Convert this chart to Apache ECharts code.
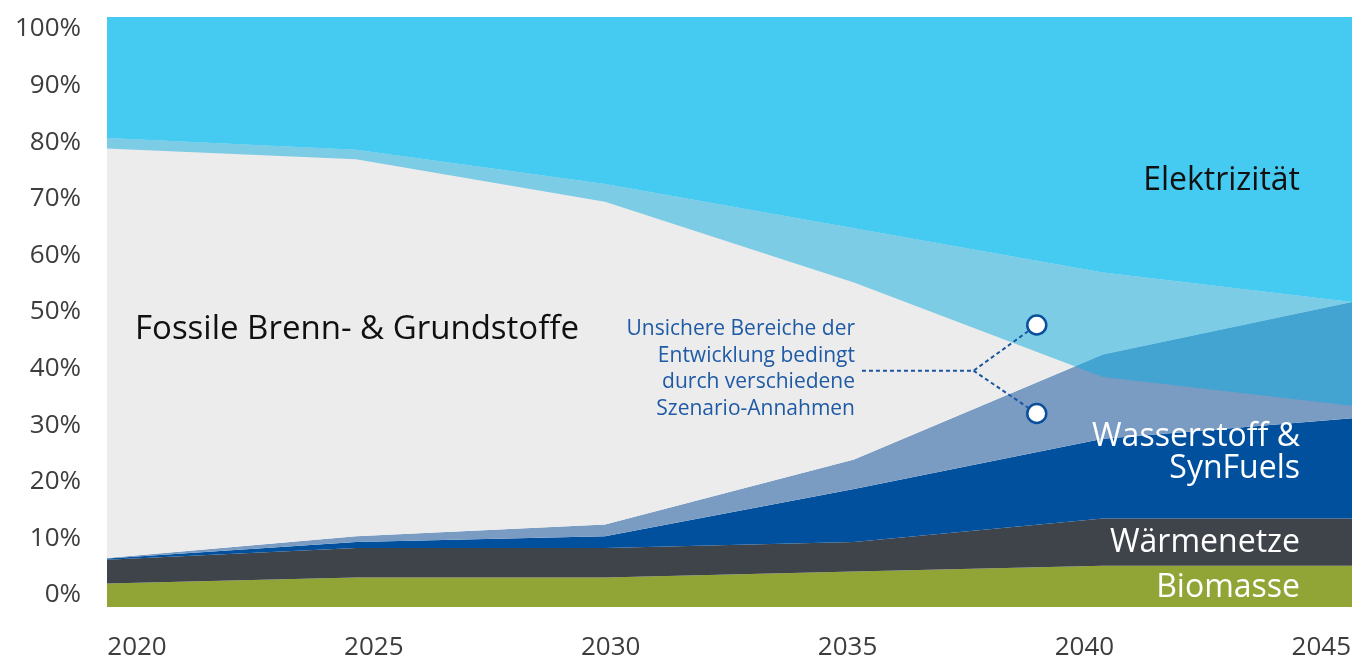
<!DOCTYPE html>
<html>
<head>
<meta charset="utf-8">
<script src="https://cdn.jsdelivr.net/npm/echarts@6/dist/echarts.min.js"></script>
<style>
  html, body { margin: 0; padding: 0; background: #ffffff; }
  #chart { width: 1354px; height: 661px; }
</style>
</head>
<body>
<div id="chart"></div>
<script>
// ---- data (shares in %, stacked bottom to top) ----
const years = ['2020', '2025', '2030', '2035', '2040', '2045'];
const xTickLabels = ['2020', '2025', '2030', '2035', '2040', '2045'];
const yTickLabels = ['0%', '10%', '20%', '30%', '40%', '50%', '60%', '70%', '80%', '90%', '100%'];

const biomasse            = [4, 5, 5, 6, 7, 7];
const waermenetze         = [4, 5, 5, 5, 8, 8];
const wasserstoff         = [0.2, 1, 2, 9, 13.5, 17];
const wasserstoffUnsicher = [0.1, 1, 2, 5, 14.3, 19.7];   // upper uncertainty range of H2 & SynFuels
const fossile             = [71.2, 65.5, 57.7, 39.2, 13.9, 0];
const elektrizitaet       = [20.5, 22.5, 28.3, 35.8, 43.3, 48.3];
const elektrizitaetUnsicher = [1.8, 1.6, 3.0, 9.2, 17.7, 17.6]; // lower uncertainty range of electricity

// annotation anchor points (year, %)
const annotUpper = [[2035.16, 40.05], [2037.40, 40.05], [2038.67, 47.8]];
const annotLower = [[2037.40, 40.05], [2038.67, 32.8]];
const annotCircles = [[2038.67, 47.8], [2038.67, 32.8]];

const FONT = 'Open Sans';

const elecLowerBound = elektrizitaet.map((v, i) => 100 - v - elektrizitaetUnsicher[i]);

function areaSeries(name, data, color, stack) {
  return {
    name, type: 'line', xAxisIndex: 0, yAxisIndex: 0, stack,
    data: data, symbol: 'none', smooth: false,
    lineStyle: { width: 0, color }, itemStyle: { color },
    areaStyle: { color, opacity: 1 }, silent: true
  };
}

function label(text, x, y, size, fill, align) {
  return {
    type: 'text', x, y, z: 100, zlevel: 0, silent: true,
    style: { text, fontSize: size, fontFamily: FONT, fill, align, verticalAlign: 'middle' }
  };
}

const chart = echarts.init(document.getElementById('chart'), null, { renderer: 'canvas' });

const option = {
  animation: false,
  backgroundColor: '#ffffff',
  grid: [
    { left: 107, right: 2, top: 17, bottom: 54 },
    { left: 137, right: 32, top: 29, bottom: 59.5 }
  ],
  xAxis: [
    { type: 'category', gridIndex: 0, data: years, boundaryGap: false, show: false },
    {
      type: 'category', gridIndex: 1, data: xTickLabels, boundaryGap: false,
      axisLine: { show: false }, axisTick: { show: false }, splitLine: { show: false },
      axisLabel: { margin: 40, fontSize: 26, fontFamily: FONT, color: '#3d3d3d', interval: 0 }
    },
    { type: 'value', gridIndex: 0, min: 2020, max: 2045, show: false }
  ],
  yAxis: [
    { type: 'value', gridIndex: 0, min: 0, max: 100, show: false },
    {
      type: 'category', gridIndex: 1, data: yTickLabels, boundaryGap: false,
      axisLine: { show: false }, axisTick: { show: false }, splitLine: { show: false },
      axisLabel: { margin: 56, fontSize: 26, fontFamily: FONT, color: '#3d3d3d', interval: 0 }
    }
  ],
  series: [
    areaSeries('Biomasse', biomasse, '#91a537', 'main'),
    areaSeries('Wärmenetze', waermenetze, '#3f444b', 'main'),
    areaSeries('Wasserstoff & SynFuels', wasserstoff, '#00509e', 'main'),
    areaSeries('Wasserstoff unsicher', wasserstoffUnsicher, '#7a9cc3', 'main'),
    areaSeries('Fossile Brenn- & Grundstoffe', fossile, '#ececec', 'main'),
    areaSeries('Elektrizität', elektrizitaet, '#45caf1', 'main'),
    {
      name: 'elecBase', type: 'line', stack: 'overlay', data: elecLowerBound,
      xAxisIndex: 0, yAxisIndex: 0,
      symbol: 'none', lineStyle: { width: 0 }, silent: true
    },
    {
      name: 'Elektrizität unsicher', type: 'line', stack: 'overlay', data: elektrizitaetUnsicher,
      xAxisIndex: 0, yAxisIndex: 0,
      symbol: 'none', lineStyle: { width: 0 }, silent: true,
      areaStyle: { color: 'rgba(12,172,224,0.5)', opacity: 1 }
    },
    {
      type: 'line', data: annotUpper, xAxisIndex: 2, yAxisIndex: 0, symbol: 'none', silent: true, z: 5,
      lineStyle: { color: '#1d56a0', width: 2, type: [4, 3] }
    },
    {
      type: 'line', data: annotLower, xAxisIndex: 2, yAxisIndex: 0, symbol: 'none', silent: true, z: 5,
      lineStyle: { color: '#1d56a0', width: 2, type: [4, 3] }
    },
    {
      type: 'scatter', data: annotCircles, xAxisIndex: 2, yAxisIndex: 0, symbol: 'circle', symbolSize: 19, silent: true, z: 6,
      itemStyle: { color: '#ffffff', borderColor: '#0b4f9c', borderWidth: 2.5, opacity: 1 }
    }
  ],
  graphic: {
    elements: [
      label('Elektrizität', 1300, 181, 32, '#111111', 'right'),
      label('Fossile Brenn- & Grundstoffe', 135, 330, 33, '#111111', 'left'),
      label('Wasserstoff &', 1300, 437, 32, '#ffffff', 'right'),
      label('SynFuels', 1300, 469, 32, '#ffffff', 'right'),
      label('Wärmenetze', 1300, 543, 32, '#ffffff', 'right'),
      label('Biomasse', 1300, 588, 32, '#ffffff', 'right'),
      label('Unsichere Bereiche der', 855, 329.5, 21, '#1f5aa5', 'right'),
      label('Entwicklung bedingt', 855, 356, 21, '#1f5aa5', 'right'),
      label('durch verschiedene', 855, 382.5, 21, '#1f5aa5', 'right'),
      label('Szenario-Annahmen', 855, 409, 21, '#1f5aa5', 'right')
    ]
  }
};
chart.setOption(option);
</script>
</body>
</html>
